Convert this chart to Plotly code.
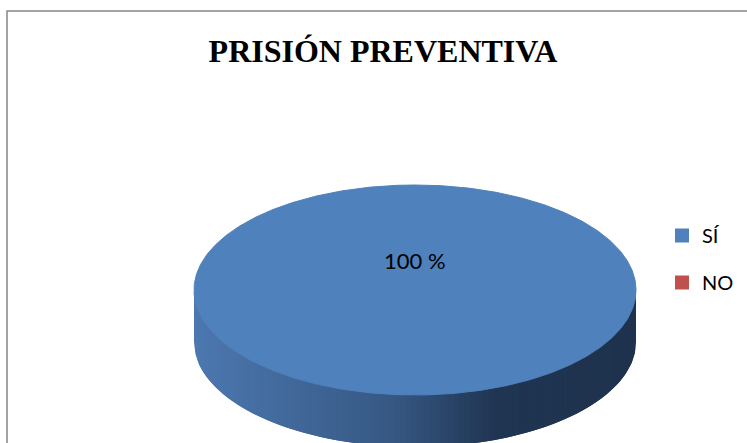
import numpy as np
import plotly.graph_objects as go

# ---- data ----
categories = ["SÍ", "NO"]
values = [100, 0]
colors = ["#4F81BD", "#C0504D"]
title_text = "PRISIÓN PREVENTIVA"

# ---- layout constants (pixel space) ----
W, H = 747, 443
cx, cy = 415, 290
rx, ry = 221, 105
depth = 52

fig = go.Figure()

def ell(theta, dy=0.0):
    return cx + rx * np.cos(theta), cy + ry * np.sin(theta) + dy

total = float(sum(values))
fracs = [v / total for v in values]

def side_color(t):
    stops = [(0.0, (76, 120, 176)), (0.45, (54, 88, 131)), (0.68, (32, 53, 82)), (1.0, (30, 50, 77))]
    for (t0, c0), (t1, c1) in zip(stops[:-1], stops[1:]):
        if t <= t1:
            u = (t - t0) / (t1 - t0)
            return "rgb(%d,%d,%d)" % tuple(int(round(a + (b - a) * u)) for a, b in zip(c0, c1))
    return "rgb(%d,%d,%d)" % stops[-1][1]

# side wall drawn as overlapping strips (overlap removes seams)
n_strips = 90
xs_edges = np.linspace(cx - rx, cx + rx, n_strips + 1)
for i in range(n_strips):
    xa = xs_edges[i]
    xb = xs_edges[min(i + 2, n_strips)]
    xx = np.linspace(xa, xb, 8)
    yy = cy + ry * np.sqrt(np.clip(1 - ((xx - cx) / rx) ** 2, 0, 1))
    px = np.concatenate([xx, xx[::-1]])
    py = np.concatenate([yy - 2, (yy + depth)[::-1]])
    col = side_color((0.5 * (xs_edges[i] + xs_edges[i + 1]) - (cx - rx)) / (2 * rx))
    fig.add_trace(go.Scatter(x=px, y=py, mode="lines", fill="toself", fillcolor=col,
                             line=dict(width=0), hoverinfo="skip", showlegend=False))

# top face slices (start at 12 o'clock, clockwise)
start = -np.pi / 2
for cat, f, col in zip(categories, fracs, colors):
    if f <= 0:
        continue
    th = np.linspace(start, start + 2 * np.pi * f, 721)
    x, y = ell(th)
    if f < 1:
        x = np.concatenate([[cx], x, [cx]])
        y = np.concatenate([[cy], y, [cy]])
    fig.add_trace(go.Scatter(x=x, y=y, mode="lines", fill="toself", fillcolor=col,
                             line=dict(width=1, color=col), hoverinfo="skip", showlegend=False))
    if f >= 1:
        lx, ly = cx, cy - 30
    else:
        mid = start + np.pi * f
        lx, ly = cx + 0.6 * rx * np.cos(mid), cy + 0.6 * ry * np.sin(mid)
    fig.add_annotation(x=lx, y=ly, text="%d %%" % round(f * 100), showarrow=False,
                       font=dict(family="Lato", size=22, color="#000000"))
    start += 2 * np.pi * f

# legend entries
for cat, col in zip(categories, colors):
    fig.add_trace(go.Scatter(x=[None], y=[None], mode="markers", name=cat, legendgroup=cat,
                             marker=dict(symbol="square", size=14, color=col)))

fig.add_shape(type="rect", xref="x", yref="y", x0=7, y0=11, x1=W + 20, y1=H + 20,
              line=dict(color="#868686", width=1.5), layer="below")

fig.update_layout(
    width=W, height=H,
    margin=dict(l=0, r=0, t=0, b=0),
    paper_bgcolor="white", plot_bgcolor="white",
    xaxis=dict(range=[0, W], visible=False, fixedrange=True),
    yaxis=dict(range=[H, 0], visible=False, fixedrange=True),
    title=dict(text="<b>%s</b>" % title_text, x=383 / W, xanchor="center", y=1 - 51 / H, yanchor="middle",
               font=dict(family="Liberation Serif", size=32, color="#000000")),
    legend=dict(x=662 / W, y=1 - 216 / H, xanchor="left", yanchor="top",
                font=dict(family="Lato", size=20, color="#000000"),
                tracegroupgap=18, bgcolor="rgba(0,0,0,0)"),
    showlegend=True,
)

fig.write_html("out.html", config={"displayModeBar": False},
               post_script="document.body.style.margin='0';")
